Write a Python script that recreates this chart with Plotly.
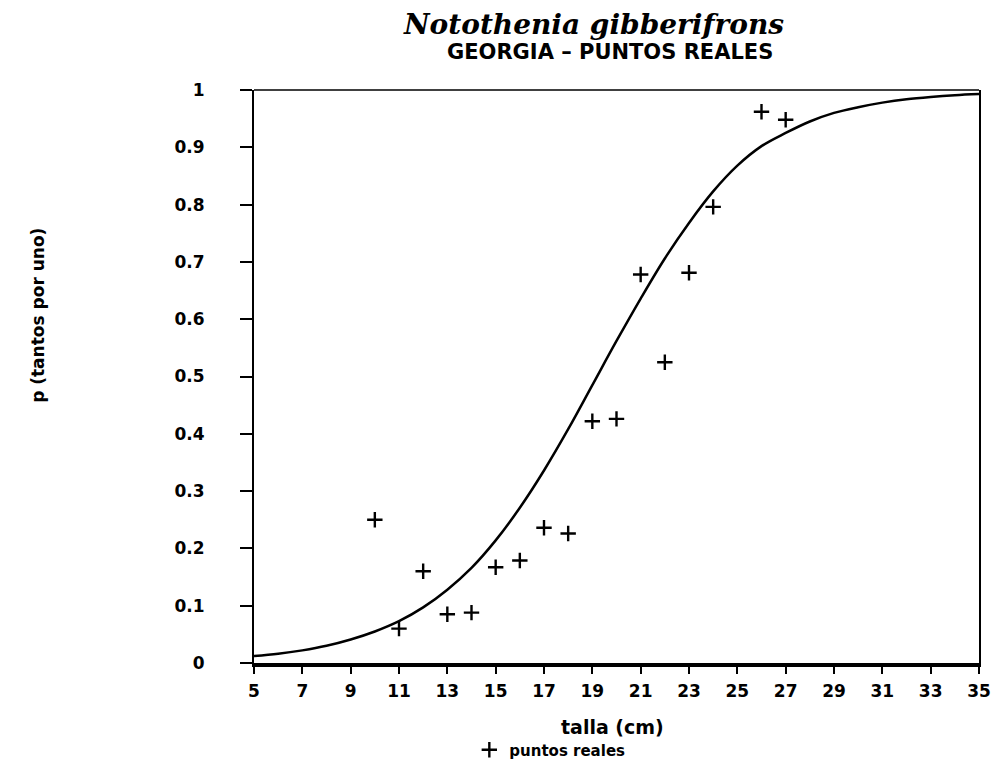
import plotly.graph_objects as go

# Observed points ("puntos reales")
talla = [10, 11, 12, 13, 14, 15, 16, 17, 18, 19, 20, 21, 22, 23, 24, 26, 27]
p_real = [0.25, 0.06, 0.16, 0.085, 0.088, 0.167, 0.179, 0.236, 0.226, 0.422,
          0.426, 0.678, 0.525, 0.681, 0.796, 0.962, 0.948]

# Fitted curve at each cm
curve_x = [5, 6, 7, 8, 9, 10, 11, 12, 13, 14, 15, 16, 17, 18, 19, 20,
           21, 22, 23, 24, 25, 26, 27, 28, 29, 30, 31, 32, 33, 34, 35]
curve_p = [0.012, 0.016, 0.022, 0.030, 0.041, 0.055, 0.073, 0.097, 0.128, 0.166,
           0.214, 0.271, 0.336, 0.408, 0.485, 0.562, 0.636, 0.706, 0.768, 0.823,
           0.868, 0.902, 0.925, 0.945, 0.960, 0.970, 0.978, 0.984, 0.988, 0.991, 0.993]

x_ticks = list(range(5, 36, 2))
y_ticks = [0, 0.1, 0.2, 0.3, 0.4, 0.5, 0.6, 0.7, 0.8, 0.9, 1]
y_ticktext = ["0", "0.1", "0.2", "0.3", "0.4", "0.5", "0.6", "0.7", "0.8", "0.9", "1"]

SANS = "DejaVu Sans"

fig = go.Figure()
fig.add_trace(go.Scatter(
    x=curve_x, y=curve_p, mode="lines", line=dict(color="black", width=2.5, shape="spline"),
    showlegend=False, hoverinfo="skip"))
fig.add_trace(go.Scatter(
    x=talla, y=p_real, mode="markers", name="puntos reales",
    marker=dict(symbol="cross-thin", size=11, color="black", line=dict(color="black", width=2.4)),
    showlegend=True))

fig.update_layout(
    width=985, height=753, autosize=False,
    margin=dict(l=246, r=14, t=82, b=98, autoexpand=False),
    paper_bgcolor="white", plot_bgcolor="white",
    font=dict(family=SANS, color="black"),
    xaxis=dict(range=[5, 35], tickvals=x_ticks, ticks="outside", ticklen=7, tickwidth=2,
               tickcolor="black", showline=True, linecolor="black", linewidth=4,
               showgrid=False, zeroline=False,
               tickfont=dict(family=SANS, size=17, color="black", weight="bold"),
               ticklabelstandoff=3),
    yaxis=dict(range=[0, 1], tickvals=y_ticks, ticktext=y_ticktext, ticks="outside",
               ticklen=12, tickwidth=2, tickcolor="black", showline=True, linecolor="black",
               linewidth=2, mirror=True, showgrid=False, zeroline=False,
               tickfont=dict(family=SANS, size=17, color="black", weight="bold"),
               ticklabelstandoff=32),
    legend=dict(x=0.297, y=-0.123, xanchor="left", yanchor="top",
                font=dict(family=SANS, size=15, color="black", weight="bold"),
                bgcolor="rgba(0,0,0,0)"),
    shapes=[dict(type="line", xref="paper", yref="paper", x0=0, x1=1, y0=1, y1=1,
                 line=dict(color="black", width=1.5))],
    annotations=[
        dict(text="<i>Notothenia gibberifrons</i>", xref="paper", yref="paper",
             x=0.4676, y=1.1135, xanchor="center", yanchor="middle", showarrow=False,
             font=dict(family="DejaVu Serif", size=28, color="black", weight="bold")),
        dict(text="GEORGIA – PUNTOS REALES", xref="paper", yref="paper",
             x=0.491, y=1.0663, xanchor="center", yanchor="middle", showarrow=False,
             font=dict(family=SANS, size=21, color="black", weight="bold")),
        dict(text="p (tantos por uno)", xref="paper", yref="paper",
             x=-0.297, y=0.607, xanchor="center", yanchor="middle", showarrow=False,
             textangle=-90, font=dict(family=SANS, size=17, color="black", weight="bold")),
        dict(text="talla (cm)", xref="paper", yref="paper",
             x=0.495, y=-0.111, xanchor="center", yanchor="middle", showarrow=False,
             font=dict(family=SANS, size=19, color="black", weight="bold")),
    ],
)

fig.write_html("out.html")
